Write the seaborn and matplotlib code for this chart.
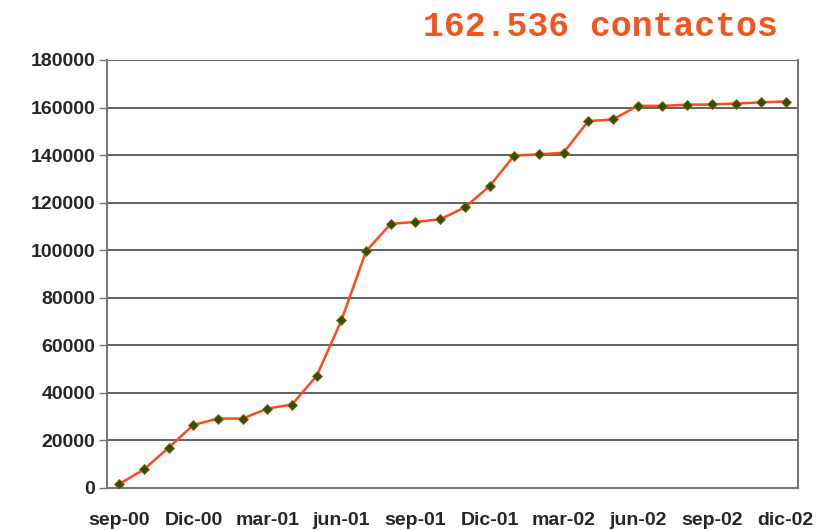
import matplotlib
matplotlib.use("Agg")
import matplotlib.pyplot as plt
import seaborn as sns
import pandas as pd
import numpy as np

months = ["sep-00", "oct-00", "nov-00", "Dic-00", "ene-01", "feb-01", "mar-01",
          "abr-01", "may-01", "jun-01", "jul-01", "ago-01", "sep-01", "oct-01",
          "nov-01", "Dic-01", "ene-02", "feb-02", "mar-02", "abr-02", "may-02",
          "jun-02", "jul-02", "ago-02", "sep-02", "oct-02", "nov-02", "dic-02"]
contactos = [1700, 7800, 17000, 26500, 29200, 29200, 33400, 35100, 47200, 70500,
             99600, 111100, 111900, 113000, 118000, 126900, 139800, 140300, 141000,
             154300, 155000, 160700, 160700, 161200, 161300, 161700, 162200, 162536]
tick_labels = ["sep-00", "Dic-00", "mar-01", "jun-01", "sep-01", "Dic-01",
               "mar-02", "jun-02", "sep-02", "dic-02"]
title_text = "162.536 contactos"

sns.set_style("white")
plt.rcParams['font.family'] = ['Liberation Sans', 'DejaVu Sans']

df = pd.DataFrame({"idx": np.arange(len(months)), "mes": months, "contactos": contactos})

fig = plt.figure(figsize=(8.39, 5.30), dpi=100)
ax = fig.add_axes([107/839, 1-488/530, (798-107)/839, (488-60)/530])

sns.lineplot(data=df, x="idx", y="contactos", ax=ax, color="#FF4A1A", linewidth=1.8,
             marker="D", markersize=5, markerfacecolor="#1E5A00",
             markeredgecolor="#C84A10", markeredgewidth=0.6, zorder=3)

ax.set_xlim(-0.5, len(months) - 0.5)
ax.set_ylim(0, 180000)
ax.set_yticks(np.arange(0, 180001, 20000))
ax.set_yticklabels([str(v) for v in range(0, 180001, 20000)],
                   fontsize=14, fontweight="bold")
ax.yaxis.grid(True, color="#555555", linewidth=1.3)
ax.set_axisbelow(True)

tick_pos = [months.index(m) for m in tick_labels]
ax.set_xticks(tick_pos)
ax.set_xticklabels(tick_labels, fontsize=14, fontweight="bold")
ax.set_xticks(np.arange(-0.5, len(months), 1), minor=True)
ax.tick_params(axis="x", which="major", length=0, pad=17)
ax.tick_params(axis="x", which="minor", length=5.5, width=1, color="#777777", direction="out")
ax.tick_params(axis="y", which="major", length=5.5, width=1, color="#777777",
               direction="out", left=True, pad=3)
ax.set_xlabel("")
ax.set_ylabel("")

for side in ["left", "bottom", "right"]:
    ax.spines[side].set_visible(True)
    ax.spines[side].set_color("#777777")
    ax.spines[side].set_linewidth(1.5)
ax.spines["top"].set_visible(False)

fig.text(778/839, 1-27/530, title_text, ha="right", va="center",
         fontsize=25, fontweight="bold", color="#F0561E", family="Liberation Mono")

fig.savefig("out.png", dpi=100, facecolor="white")
